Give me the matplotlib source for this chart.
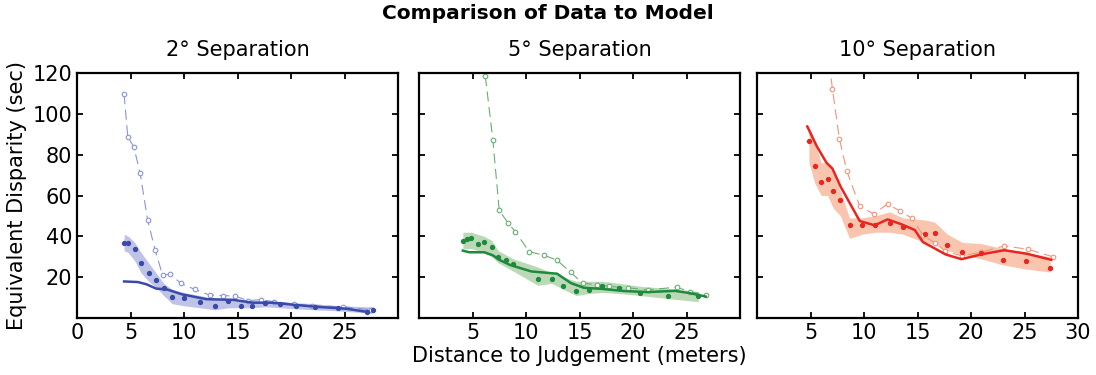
import numpy as np
import matplotlib.pyplot as plt

plt.rcParams['font.family'] = ['DejaVu Sans']

# 2 deg separation
d2_x = [4.4, 4.8, 5.4, 6.0, 6.7, 7.4, 8.1, 8.9, 10.0, 11.5, 12.9, 14.1, 15.3, 16.4,
        17.6, 19.0, 20.5, 22.2, 24.4, 27.1, 27.7]
d2_y = [36.6, 36.6, 33.7, 26.8, 22.0, 18.7, 14.6, 10.4, 9.8, 7.6, 6.0, 8.3, 6.0, 6.0,
        7.5, 7.0, 6.0, 5.5, 4.7, 3.0, 4.0]
d2_lo = [33, 32, 28, 22, 18, 15, 11, 7, 6, 5, 4, 5, 5, 5, 5.5, 5, 4.5, 4, 3.5, 2.5, 2.5]
d2_hi = [41, 40, 37, 32, 27, 22, 17, 14, 12.5, 11, 9.5, 9.5, 9, 8.5, 8.5, 8, 7.5, 7, 6, 5.5, 5.5]
m2_x = [4.4, 5.7, 6.5, 7.4, 8.4, 9.8, 12.1, 14.6, 16.4, 18.3, 20.2, 22.6, 25.1, 27.1]
m2_y = [17.9, 17.6, 16.5, 14.4, 14.0, 11.6, 9.2, 8.9, 7.5, 7.5, 6.5, 5.4, 4.6, 3.0]
s2_x = [4.4, 4.75, 5.3, 5.9, 6.6, 7.3, 8.0, 8.7, 9.7, 11.0, 12.4, 13.6, 14.8, 16.0,
        17.2, 18.4, 20.3, 22.0, 24.9, 27.5]
s2_y = [109.6, 88.6, 84.0, 71.0, 48.0, 33.3, 21.0, 21.5, 17.0, 14.0, 11.2, 11.0, 10.7,
        8.5, 9.0, 8.0, 6.8, 6.0, 5.5, 4.0]

# 5 deg separation
d5_x = [4.1, 4.5, 4.9, 5.5, 6.1, 6.8, 7.4, 8.1, 8.8, 11.1, 12.4, 13.5, 14.7, 15.9,
        17.1, 18.7, 20.7, 23.3, 26.1]
d5_y = [37.7, 38.5, 39.3, 36.4, 37.2, 35.0, 29.9, 28.3, 26.3, 19.0, 19.0, 15.5, 13.0,
        13.8, 15.5, 14.8, 12.3, 10.9, 10.6]
d5_lo = [34, 34, 34, 33, 32, 30, 27, 25, 23, 16, 17, 14, 11, 12, 12.5, 12, 11, 9.5, 8]
d5_hi = [42, 42, 42, 41, 40, 38, 33, 31, 29, 25, 22, 20, 18, 18, 18, 17, 15.5, 14.5, 13]
m5_x = [4.1, 4.7, 6.1, 6.9, 7.5, 8.5, 10.5, 11.6, 12.9, 14.2, 15.4, 17.0, 19.2, 21.4,
        23.9, 25.3, 26.8]
m5_y = [33.0, 32.2, 32.2, 30.7, 28.5, 26.0, 22.8, 22.3, 21.7, 17.1, 14.8, 14.3, 13.2,
        12.7, 13.3, 12.2, 10.5]
s5_x = [6.2, 6.9, 7.5, 8.3, 9.0, 10.3, 11.7, 12.9, 14.2, 15.3, 16.6, 17.8, 19.5, 21.4,
        24.1, 25.3, 26.8]
s5_y = [118.5, 87.3, 52.7, 46.7, 42.3, 32.5, 30.7, 28.3, 22.3, 16.9, 16.4, 15.5, 14.8,
        13.8, 15.1, 12.8, 11.5]

# 10 deg separation
d10_x = [4.85, 5.4, 6.0, 6.6, 7.1, 7.8, 8.65, 9.8, 11.0, 12.4, 13.65, 15.7, 16.6, 17.8,
         19.2, 20.9, 23.0, 25.1, 27.4]
d10_y = [86.5, 74.3, 66.5, 68.1, 62.4, 58.0, 45.4, 45.4, 45.4, 46.3, 44.7, 41.3, 41.8,
         35.9, 32.2, 32.0, 28.5, 27.8, 24.5]
d10_lo = [76, 66, 60, 60, 54, 50, 39, 41, 42, 42, 41, 37, 36, 33, 31, 29, 26, 24, 22.5]
d10_hi = [94, 86, 76, 76, 72, 62, 49, 49, 50, 52, 49, 48, 47, 41, 37, 36.5, 34, 32, 30]
m10_x = [4.7, 5.6, 6.5, 7.05, 7.8, 9.6, 11.0, 12.2, 13.5, 14.75, 15.5, 16.5, 17.6,
         19.1, 21.0, 23.1, 25.2, 27.5]
m10_y = [93.8, 84.0, 76.0, 73.2, 64.5, 47.5, 45.4, 48.3, 45.9, 43.1, 37.2, 34.4, 31.2,
         28.8, 31.2, 33.2, 31.5, 28.5]
s10_x = [6.4, 7.05, 7.7, 8.4, 9.6, 10.9, 12.2, 13.4, 14.5, 15.5, 16.6, 17.6, 19.2, 20.9,
         23.1, 25.3, 27.7]
s10_y = [140.0, 112.2, 87.7, 71.9, 54.8, 50.9, 55.9, 52.3, 48.8, 40.6, 36.9, 32.7, 30.4,
         32.2, 35.3, 33.7, 29.9]

titles = ['2° Separation', '5° Separation', '10° Separation']
main_c = ['#3a4aa8', '#1d8a3c', '#e8261f']
band_c = ['#bfc3e8', '#bcd9b7', '#f9c5ae']
sim_c = ['#8a95d6', '#6aae73', '#f39479']

panels = [
    (d2_x, d2_y, d2_lo, d2_hi, m2_x, m2_y, s2_x, s2_y),
    (d5_x, d5_y, d5_lo, d5_hi, m5_x, m5_y, s5_x, s5_y),
    (d10_x, d10_y, d10_lo, d10_hi, m10_x, m10_y, s10_x, s10_y),
]

fig = plt.figure(figsize=(10.96, 3.75), dpi=100)
lefts = [77, 419, 757]

for i, (dx, dy, lo, hi, mx, my, sx, sy) in enumerate(panels):
    ax = fig.add_axes([lefts[i] / 1096, 1 - 318 / 375, 321 / 1096, 245 / 375])
    ax.fill_between(dx, lo, hi, color=band_c[i], lw=0, zorder=1)
    ax.plot(sx, sy, color=sim_c[i], lw=0.8, ls=(0, (9, 5)), marker='o', ms=3.3,
            mfc='white', mec=sim_c[i], mew=0.8, zorder=2)
    ax.plot(mx, my, color=main_c[i], lw=1.8, zorder=3)
    ax.plot(dx, dy, ls='none', marker='o', ms=2.8, color=main_c[i], zorder=4)

    ax.set_xlim(0, 30)
    ax.set_ylim(0, 120)
    ax.set_title(titles[i], fontsize=15, pad=12)
    ax.tick_params(direction='in', top=True, right=True, length=4, width=1.3,
                   labelsize=15)
    for s in ax.spines.values():
        s.set_linewidth(1.6)
    ax.set_yticks([20, 40, 60, 80, 100, 120])
    if i == 0:
        ax.set_xticks([0, 5, 10, 15, 20, 25])
        ax.set_ylabel('Equivalent Disparity (sec)', fontsize=15)
    else:
        ax.set_yticklabels([])
        if i == 1:
            ax.set_xticks([5, 10, 15, 20, 25])
            ax.set_xlabel('Distance to Judgement (meters)', fontsize=15, labelpad=2)
        else:
            ax.set_xticks([5, 10, 15, 20, 25, 30])

fig.suptitle('Comparison of Data to Model', fontsize=14.5, fontweight='bold', x=0.5, y=0.99)

plt.savefig('out.png', dpi=100)
